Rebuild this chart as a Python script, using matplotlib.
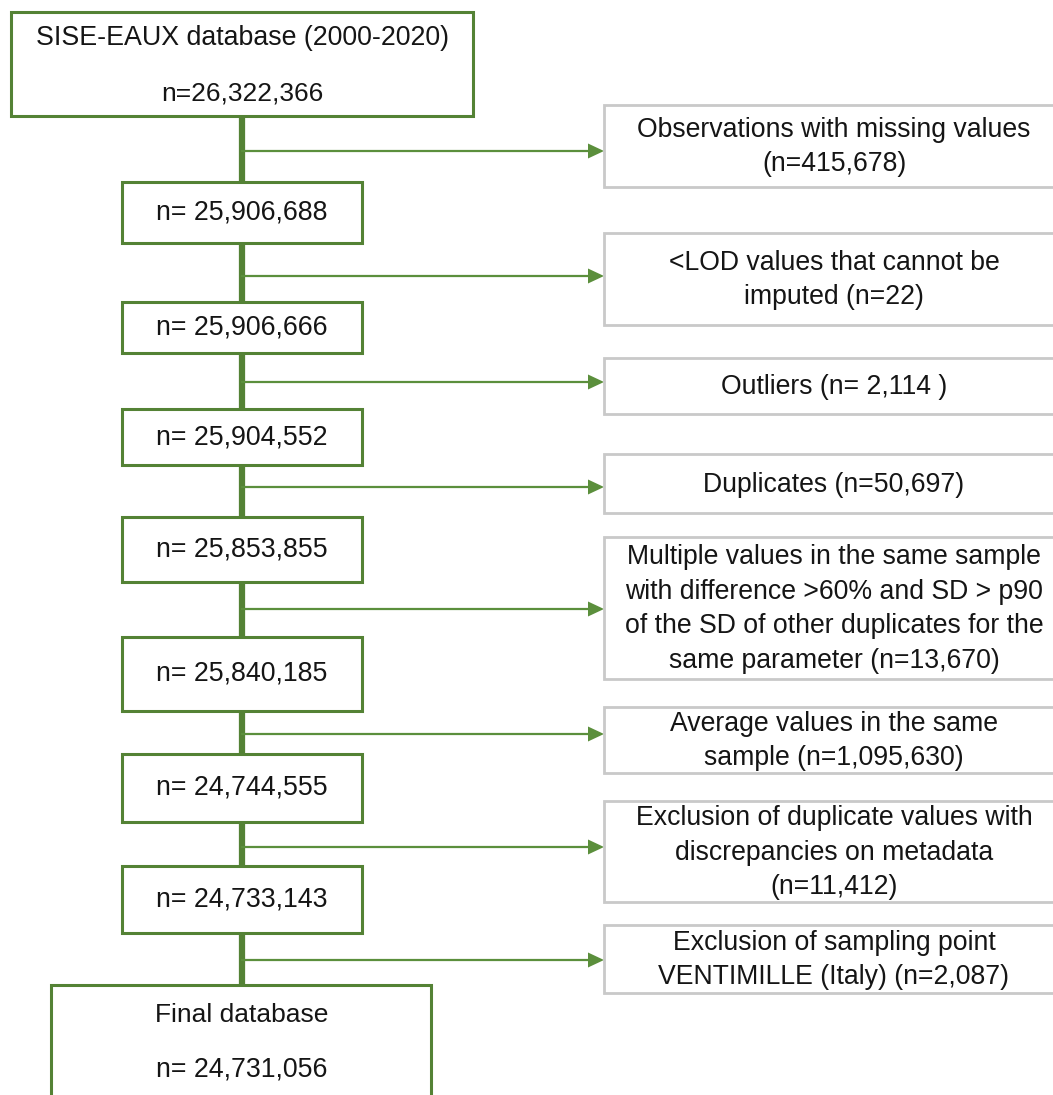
import matplotlib.pyplot as plt
from matplotlib.patches import Rectangle, Polygon

plt.rcParams['font.family'] = ['Liberation Sans', 'DejaVu Sans']

# flow steps (left column) and exclusions (right column)
top_label = ["SISE-EAUX database (2000-2020)", "n=26,322,366"]
step_labels = ["n= 25,906,688", "n= 25,906,666", "n= 25,904,552", "n= 25,853,855",
               "n= 25,840,185", "n= 24,744,555", "n= 24,733,143"]
final_label = ["Final database", "n= 24,731,056"]
excl_labels = [
    "Observations with missing values\n(n=415,678)",
    "<LOD values that cannot be\nimputed (n=22)",
    "Outliers (n= 2,114 )",
    "Duplicates (n=50,697)",
    "Multiple values in the same sample\nwith difference >60% and SD > p90\nof the SD of other duplicates for the\nsame parameter (n=13,670)",
    "Average values in the same\nsample (n=1,095,630)",
    "Exclusion of duplicate values with\ndiscrepancies on metadata\n(n=11,412)",
    "Exclusion of sampling point\nVENTIMILLE (Italy) (n=2,087)",
]

# layout in pixels (y down)
step_y = [(182, 243), (302, 353), (409, 465), (517, 582), (637, 711), (754, 822), (866, 933)]
excl_y = [(105, 187), (233, 325), (358, 414), (454, 513), (537, 679), (707, 773), (801, 902), (925, 993)]
branch_y = [151, 276, 382, 487, 609, 734, 847, 960]

green = '#548235'
arrow_green = '#5b8f3c'
gray = '#c9c9c9'
txt = '#151515'
cx = 242
excl_x0, excl_x1 = 604, 1066

fig = plt.figure(figsize=(10.53, 10.95), dpi=100)
ax = fig.add_axes([0, 0, 1, 1])
ax.set_xlim(0, 1053)
ax.set_ylim(1095, 0)
ax.axis('off')

# main trunk
ax.plot([cx, cx], [116, 985], color=green, lw=4.5, solid_capstyle='butt', zorder=1)


def box(x0, y0, x1, y1, ec, lw):
    ax.add_patch(Rectangle((x0, y0), x1 - x0, y1 - y0, fc='white', ec=ec, lw=lw,
                           zorder=3, clip_on=False))


# top box
box(11, 12, 473, 116, green, 2.2)
ax.text(cx, 38, top_label[0], ha='center', va='center', fontsize=19.3, color=txt, zorder=4)
ax.text(cx, 93, top_label[1], ha='center', va='center', fontsize=19, color=txt, zorder=4)

# intermediate steps
for lab, (y0, y1) in zip(step_labels, step_y):
    box(122, y0, 362, y1, green, 2.2)
    ax.text(cx, (y0 + y1) / 2, lab, ha='center', va='center', fontsize=19.3, color=txt, zorder=4)

# final box
box(51, 985, 431, 1110, green, 2.2)
ax.text(cx, 1015, final_label[0], ha='center', va='center', fontsize=19, color=txt, zorder=4)
ax.text(cx, 1070, final_label[1], ha='center', va='center', fontsize=19.3, color=txt, zorder=4)

# exclusions with arrows
for lab, (y0, y1), by in zip(excl_labels, excl_y, branch_y):
    ax.plot([cx, excl_x0 - 14], [by, by], color=arrow_green, lw=1.6, zorder=2)
    ax.add_patch(Polygon([[excl_x0 - 16, by - 7.5], [excl_x0, by], [excl_x0 - 16, by + 7.5]],
                         closed=True, fc=arrow_green, ec='none', zorder=2))
    box(excl_x0, y0, excl_x1, y1, gray, 2.0)
    ax.text(834, (y0 + y1) / 2 + 1, lab, ha='center', va='center', fontsize=19.2,
            color=txt, linespacing=1.43, zorder=4)

fig.savefig('out.png', dpi=100)
